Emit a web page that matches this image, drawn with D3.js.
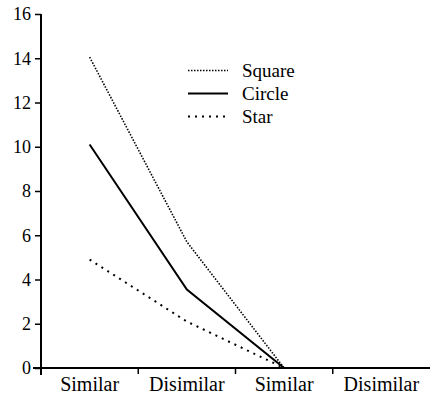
<!DOCTYPE html>
<html>
<head>
<meta charset="utf-8">
<script src="https://cdn.jsdelivr.net/npm/d3@7"></script>
</head>
<body style="margin:0">
<script>
// chart values
const categories = ["Similar", "Disimilar", "Similar", "Disimilar"];
const yTicks = [0, 2, 4, 6, 8, 10, 12, 14, 16];
const seriesNames = ["Square", "Circle", "Star"];
const square = [14.05, 5.7, 0, 0];
const circle = [10.1, 3.55, 0, 0];
const star = [4.9, 2.1, 0, 0];

const dashes = { Square: "1.5,1.5", Circle: null, Star: "2,5" };
const widths = { Square: 1.6, Circle: 2, Star: 2 };

let svg = d3.select("body").append("svg")
    .attr("width", 430)
    .attr("height", 397)
    .attr("font-family", "Liberation Serif");

const x = d3.scaleBand()
    .domain(d3.range(categories.length))
    .range([41, 430])
    .padding(0);

const y = d3.scaleLinear()
    .domain([0, 16])
    .range([368, 14]);

// y axis
const yAxis = svg.append("g")
    .attr("transform", "translate(41,0)")
    .call(d3.axisLeft(y).tickValues(yTicks).tickSize(6).tickPadding(4));
yAxis.attr("font-family", "Liberation Serif").attr("font-size", 18);
yAxis.select(".domain").remove();
yAxis.selectAll("line").attr("stroke", "#000").attr("stroke-width", 1.5);
yAxis.selectAll("text")
    .attr("fill", "#000")
    .attr("font-family", "Liberation Serif")
    .attr("font-size", 18);

svg.append("line")
    .attr("x1", 41).attr("x2", 41)
    .attr("y1", y(16)).attr("y2", y(0) + 7)
    .attr("stroke", "#000").attr("stroke-width", 2);

// x axis
svg.append("line")
    .attr("x1", 33).attr("x2", 430)
    .attr("y1", y(0)).attr("y2", y(0))
    .attr("stroke", "#000").attr("stroke-width", 2);

svg.selectAll(".xtick")
    .data(d3.range(categories.length))
    .enter()
    .append("line")
    .attr("x1", d => x(d)).attr("x2", d => x(d))
    .attr("y1", y(0)).attr("y2", y(0) + 6)
    .attr("stroke", "#000").attr("stroke-width", 1.5);

svg.selectAll(".xlabel")
    .data(categories)
    .enter()
    .append("text")
    .attr("text-anchor", "middle")
    .attr("x", (d, i) => x(i) + x.bandwidth() / 2)
    .attr("y", y(0) + 23)
    .attr("font-family", "Liberation Serif")
    .attr("font-size", 20)
    .text(d => d);

// lines
const line = d3.line()
    .x((d, i) => x(i) + x.bandwidth() / 2)
    .y(d => y(d));

const seriesData = [square, circle, star];
seriesData.forEach(function (values, k) {
    const name = seriesNames[k];
    svg.append("path")
        .datum(values)
        .attr("d", line)
        .attr("fill", "none")
        .attr("stroke", "#000")
        .attr("stroke-width", widths[name])
        .attr("stroke-dasharray", dashes[name]);
});

// legend
const legend = svg.selectAll(".legend")
    .data(seriesNames)
    .enter()
    .append("g")
    .attr("transform", (d, i) => "translate(188," + (70.5 + i * 23) + ")");

legend.append("line")
    .attr("x1", 0).attr("x2", 40)
    .attr("y1", 0).attr("y2", 0)
    .attr("stroke", "#000")
    .attr("stroke-width", d => widths[d])
    .attr("stroke-dasharray", d => dashes[d]);

legend.append("text")
    .attr("x", 54)
    .attr("y", 6)
    .attr("font-family", "Liberation Serif")
    .attr("font-size", 19)
    .text(d => d);
</script>
</body>
</html>
